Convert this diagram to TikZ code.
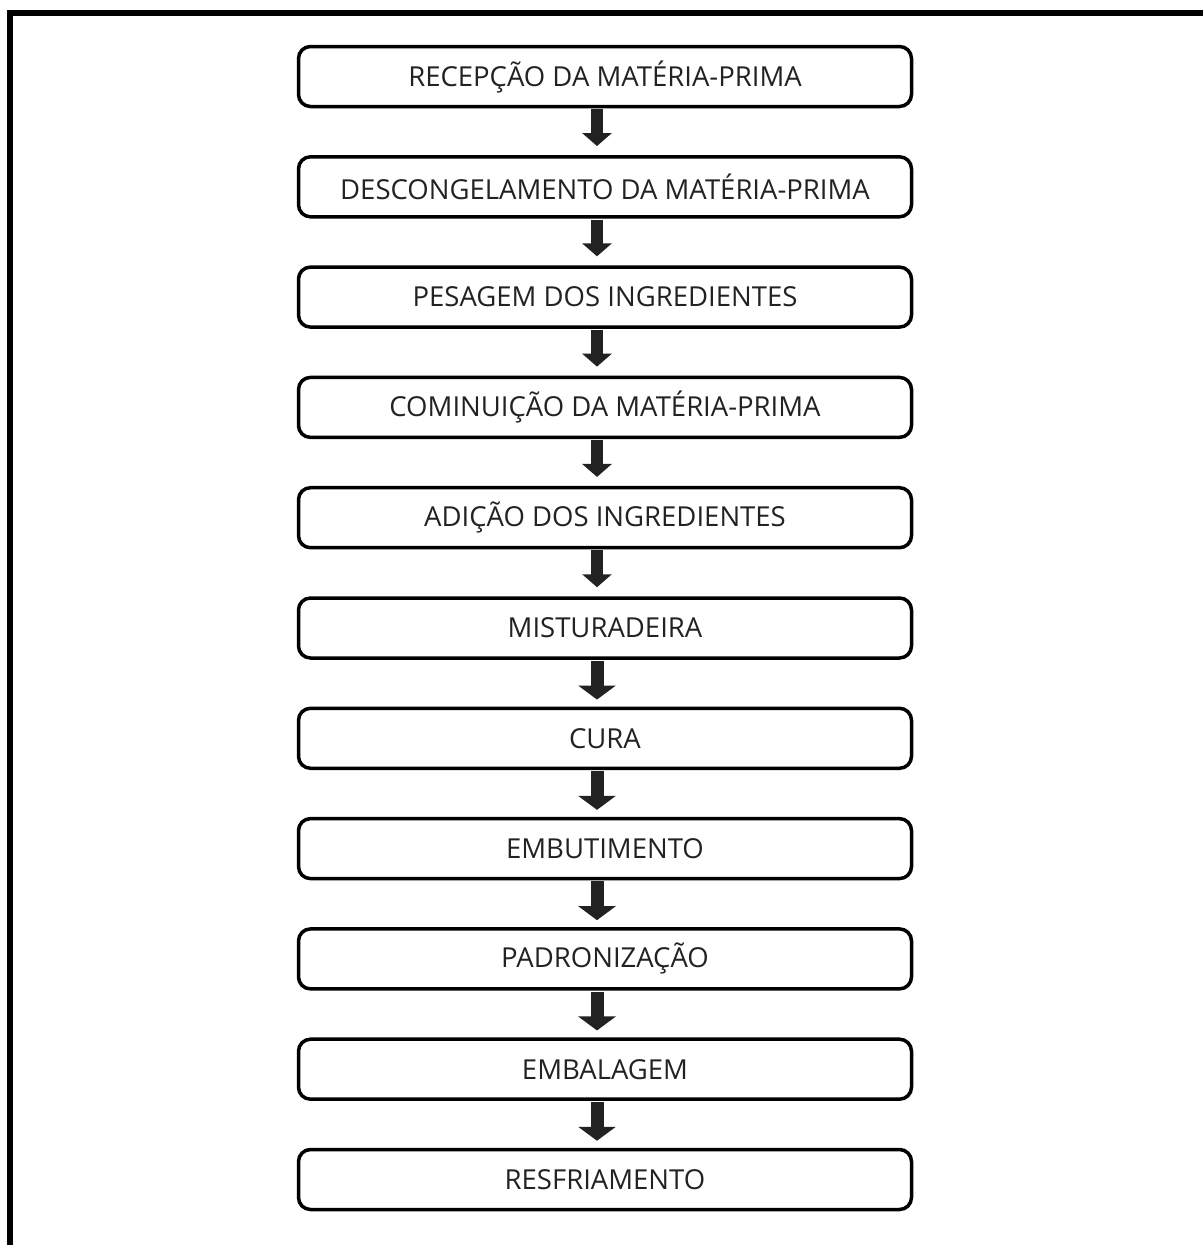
\documentclass[tikz,border=0pt]{standalone}
\usepackage{fontspec}
\setmainfont{Open Sans}
\usetikzlibrary{arrows.meta}
\definecolor{ink}{HTML}{222222}
\tikzset{
  stepbox/.style={draw=black, line width=3.5pt, rounded corners=12pt, minimum width=613pt, minimum height=60pt, inner sep=0pt, text=ink, font=\fontsize{27.5}{32}\selectfont},
  flowsmall/.style={draw=ink, line width=12pt, -{Triangle[width=29pt,length=13pt]}, shorten >=9pt},
  flowbig/.style={draw=ink, line width=13pt, -{Triangle[width=37pt,length=14pt]}, shorten >=7pt},
  frame/.style={line width=6.5pt, black}
}
\begin{document}
\begin{tikzpicture}[x=1pt,y=-1pt]
\useasboundingbox (0,0) rectangle (1203,1245);
\coordinate (fa) at (10,1245);
\coordinate (fb) at (10,13);
\coordinate (fc) at (1203,13);
\draw[frame] (fa) -- (fb) -- (fc);
\node[stepbox] (n1)  at (605,76.5)   {RECEPÇÃO DA MATÉRIA-PRIMA};
\node[stepbox] (n2)  at (605,186.8)  {DESCONGELAMENTO DA MATÉRIA-PRIMA};
\node[stepbox] (n3)  at (605,297.1)  {PESAGEM DOS INGREDIENTES};
\node[stepbox] (n4)  at (605,407.4)  {COMINUIÇÃO DA MATÉRIA-PRIMA};
\node[stepbox] (n5)  at (605,517.7)  {ADIÇÃO DOS INGREDIENTES};
\node[stepbox] (n6)  at (605,628.0)  {MISTURADEIRA};
\node[stepbox] (n7)  at (605,738.3)  {CURA};
\node[stepbox] (n8)  at (605,848.6)  {EMBUTIMENTO};
\node[stepbox] (n9)  at (605,958.9)  {PADRONIZAÇÃO};
\node[stepbox] (n10) at (605,1069.2) {EMBALAGEM};
\node[stepbox] (n11) at (605,1179.5) {RESFRIAMENTO};
\foreach \a/\b in {n1/n2,n2/n3,n3/n4,n4/n5,n5/n6}
  \draw[flowsmall] ([xshift=-8pt,yshift=-1pt]\a.south) -- ([xshift=-8pt]\b.north);
\foreach \a/\b in {n6/n7,n7/n8,n8/n9,n9/n10,n10/n11}
  \draw[flowbig] ([xshift=-8pt,yshift=-1pt]\a.south) -- ([xshift=-8pt]\b.north);
\end{tikzpicture}
\end{document}
